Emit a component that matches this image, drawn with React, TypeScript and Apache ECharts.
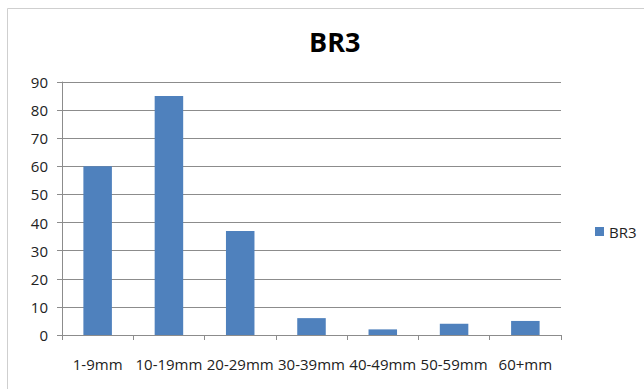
import React, { useEffect, useRef } from "react";
import * as echarts from "echarts";

const categories = ["1-9mm", "10-19mm", "20-29mm", "30-39mm", "40-49mm", "50-59mm", "60+mm"];
const values = [60, 85, 37, 6, 2, 4, 5];
const seriesName = "BR3";
const titleText = "BR3";

export default function App() {
  const ref = useRef<HTMLDivElement>(null);
  useEffect(() => {
    document.body.style.margin = "0";
    const chart = echarts.init(ref.current!, null, { renderer: "svg" });
    const font = "'Open Sans', 'Liberation Sans', sans-serif";
    chart.setOption({
      animation: false,
      backgroundColor: "#ffffff",
      title: {
        text: titleText,
        left: 304,
        top: 23,
        textStyle: { fontSize: 27, fontWeight: "bold", color: "#000", fontFamily: font },
      },
      graphic: [
        {
          type: "rect",
          shape: { x: 7.5, y: 8.5, width: 700, height: 420 },
          style: { fill: "none", stroke: "#cfcfcf", lineWidth: 1 },
        },
      ],
      legend: {
        data: [seriesName],
        left: 590,
        top: 219,
        itemWidth: 9,
        itemHeight: 9,
        itemGap: 5,
        icon: "rect",
        textStyle: { fontSize: 15, color: "#222", fontFamily: font },
      },
      grid: { left: 62, right: 83, top: 82, bottom: 54, containLabel: false },
      xAxis: {
        type: "category",
        data: categories,
        axisLine: { lineStyle: { color: "#8c8c8c" } },
        axisTick: { show: true, alignWithLabel: false, length: 5, lineStyle: { color: "#8c8c8c" } },
        axisLabel: { interval: 0, fontSize: 15, color: "#222", margin: 21, fontFamily: font },
      },
      yAxis: {
        type: "value",
        min: 0,
        max: 90,
        interval: 10,
        axisLine: { show: true, lineStyle: { color: "#8c8c8c" } },
        axisTick: { show: true, length: 5, lineStyle: { color: "#8c8c8c" } },
        splitLine: { lineStyle: { color: "#8c8c8c" } },
        axisLabel: { fontSize: 15, color: "#222", margin: 14, fontFamily: font },
      },
      series: [
        {
          name: seriesName,
          type: "bar",
          data: values,
          barWidth: "40%",
          itemStyle: { color: "#4f81bd" },
        },
      ],
    });
    return () => chart.dispose();
  }, []);
  return <div ref={ref} style={{ width: 644, height: 389 }} />;
}
